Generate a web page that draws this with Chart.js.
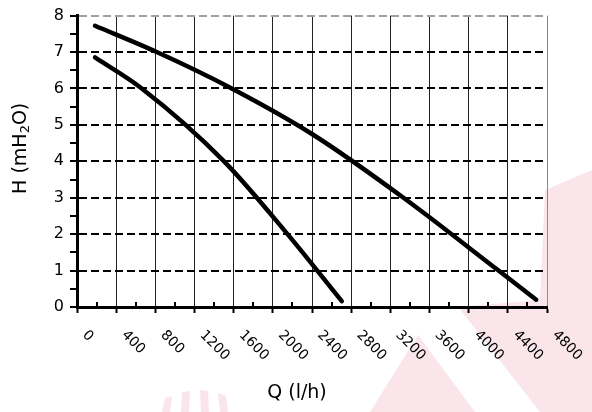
<!DOCTYPE html>
<html>
<head>
<meta charset="utf-8">
<script src="https://cdn.jsdelivr.net/npm/chart.js@4.4.0/dist/chart.umd.min.js"></script>
<style>
  html, body { margin: 0; padding: 0; background: #fff; }
</style>
</head>
<body>
<canvas id="pumpChart" width="592" height="412"></canvas>
<script>
// courbes débit / hauteur de la pompe

const qTicks = [0, 400, 800, 1200, 1600, 2000, 2400, 2800, 3200, 3600, 4000, 4400, 4800];
const hTicks = [0, 1, 2, 3, 4, 5, 6, 7, 8];

// vitesse max
const qHigh = [184, 814, 1580, 2400, 3334, 4305, 4690];
const hHigh = [7.72, 7.0, 6.0, 4.75, 3.0, 1.0, 0.2];

// vitesse min
const qLow = [184, 661, 1502, 2150, 2704];
const hLow = [6.85, 6.0, 4.0, 2.0, 0.16];

const FONT = '"DejaVu Sans", Verdana, sans-serif';

function toPoints(qs, hs) {
    return qs.map((q, i) => ({ x: q, y: hs[i] }));
}

// filigrane rose + libellés inclinés + titres des axes
const decorPlugin = {
    id: 'decor',
    beforeDraw(chart) {
        const c = chart.ctx;
        c.save();
        c.fillStyle = '#fae6ea';
        const shapes = [
            [[545, 190], [592, 170], [592, 412], [540, 412], [458, 307], [540, 300]],
            [[418, 335], [475, 412], [370, 412]],
            [[165, 398], [172, 396], [170, 412], [162, 412]],
            [[182, 392], [190, 391], [189, 412], [181, 412]],
            [[200, 390], [208, 391], [209, 412], [201, 412]],
            [[218, 393], [226, 396], [228, 412], [220, 412]]
        ];
        shapes.forEach(pts => {
            c.beginPath();
            pts.forEach((p, i) => i ? c.lineTo(p[0], p[1]) : c.moveTo(p[0], p[1]));
            c.closePath();
            c.fill();
        });
        c.restore();
    },
    afterDraw(chart) {
        const c = chart.ctx;
        const xs = chart.scales.x;
        const area = chart.chartArea;
        c.save();
        c.fillStyle = '#000';

        // petites graduations au-dessus de l'axe Q
        c.strokeStyle = '#000';
        c.lineWidth = 2;
        qTicks.slice(0, -1).forEach((q, i) => {
            const px = Math.round(xs.getPixelForValue((q + qTicks[i + 1]) / 2));
            c.beginPath();
            c.moveTo(px, area.bottom - 5);
            c.lineTo(px, area.bottom);
            c.stroke();
        });

        // libellés de l'axe Q, tournés à 45°
        c.font = '14px ' + FONT;
        c.textAlign = 'left';
        c.textBaseline = 'top';
        qTicks.forEach(q => {
            const px = xs.getPixelForValue(q);
            c.save();
            c.translate(px + 12.5, area.bottom + 21);
            c.rotate(Math.PI / 4);
            c.fillText(String(q), 0, 0);
            c.restore();
        });

        // titre de l'axe X
        c.font = '19px ' + FONT;
        c.textAlign = 'center';
        c.textBaseline = 'middle';
        c.fillText('Q (l/h)', (area.left + area.right) / 2 - 15, area.bottom + 86);

        // titre de l'axe Y avec indice
        const parts = [
            { t: 'H (mH', size: 19, dy: 0 },
            { t: '2', size: 13, dy: 5 },
            { t: 'O)', size: 19, dy: 0 }
        ];
        let total = 0;
        parts.forEach(p => { c.font = p.size + 'px ' + FONT; p.w = c.measureText(p.t).width; total += p.w; });
        c.translate(area.left - 56, (area.top + area.bottom) / 2 - 13);
        c.rotate(-Math.PI / 2);
        c.textAlign = 'left';
        c.textBaseline = 'middle';
        let x = -total / 2;
        parts.forEach(p => {
            c.font = p.size + 'px ' + FONT;
            c.fillText(p.t, x, p.dy);
            x += p.w;
        });
        c.restore();
    }
};

const lineStyle = {
    borderColor: '#000',
    borderWidth: 4.5,
    pointRadius: 0,
    borderCapStyle: 'round',
    borderJoinStyle: 'round',
    cubicInterpolationMode: 'monotone',
    fill: false
};

new Chart(document.getElementById('pumpChart'), {
    type: 'line',
    data: {
        datasets: [
            Object.assign({ label: 'max', data: toPoints(qHigh, hHigh) }, lineStyle),
            Object.assign({ label: 'min', data: toPoints(qLow, hLow) }, lineStyle)
        ]
    },
    options: {
        responsive: false,
        animation: false,
        devicePixelRatio: 1,
        layout: { padding: { top: 12, right: 45, left: 0, bottom: 0 } },
        plugins: {
            legend: { display: false },
            tooltip: { enabled: false }
        },
        scales: {
            x: {
                type: 'linear',
                min: 0,
                max: 4800,
                afterFit(scale) { scale.height = 105; },
                ticks: { stepSize: 400, autoSkip: false, display: false },
                grid: {
                    color: ctx => {
                        const v = ctx.tick ? ctx.tick.value : 0;
                        return v === 4800 ? '#8a8a8a' : '#222';
                    },
                    lineWidth: 1,
                    tickColor: '#000',
                    tickLength: 6,
                    tickWidth: 2
                },
                border: { color: '#000', width: 3 }
            },
            y: {
                min: 0,
                max: 8,
                afterFit(scale) { scale.width = 77; },
                ticks: {
                    stepSize: 0.5,
                    autoSkip: false,
                    padding: 6,
                    color: '#000',
                    font: { family: FONT, size: 16 },
                    callback: v => hTicks.includes(v) ? String(v) : ''
                },
                grid: {
                    color: ctx => {
                        const v = ctx.tick ? ctx.tick.value : 0;
                        if (!hTicks.includes(v)) return 'transparent';
                        return v === 8 ? '#a0a0a0' : '#000';
                    },
                    lineWidth: 2,
                    tickColor: '#000',
                    tickLength: 7,
                    tickWidth: 2
                },
                border: { color: '#000', width: 3, dash: [8, 4] }
            }
        }
    },
    plugins: [decorPlugin]
});
</script>
</body>
</html>
